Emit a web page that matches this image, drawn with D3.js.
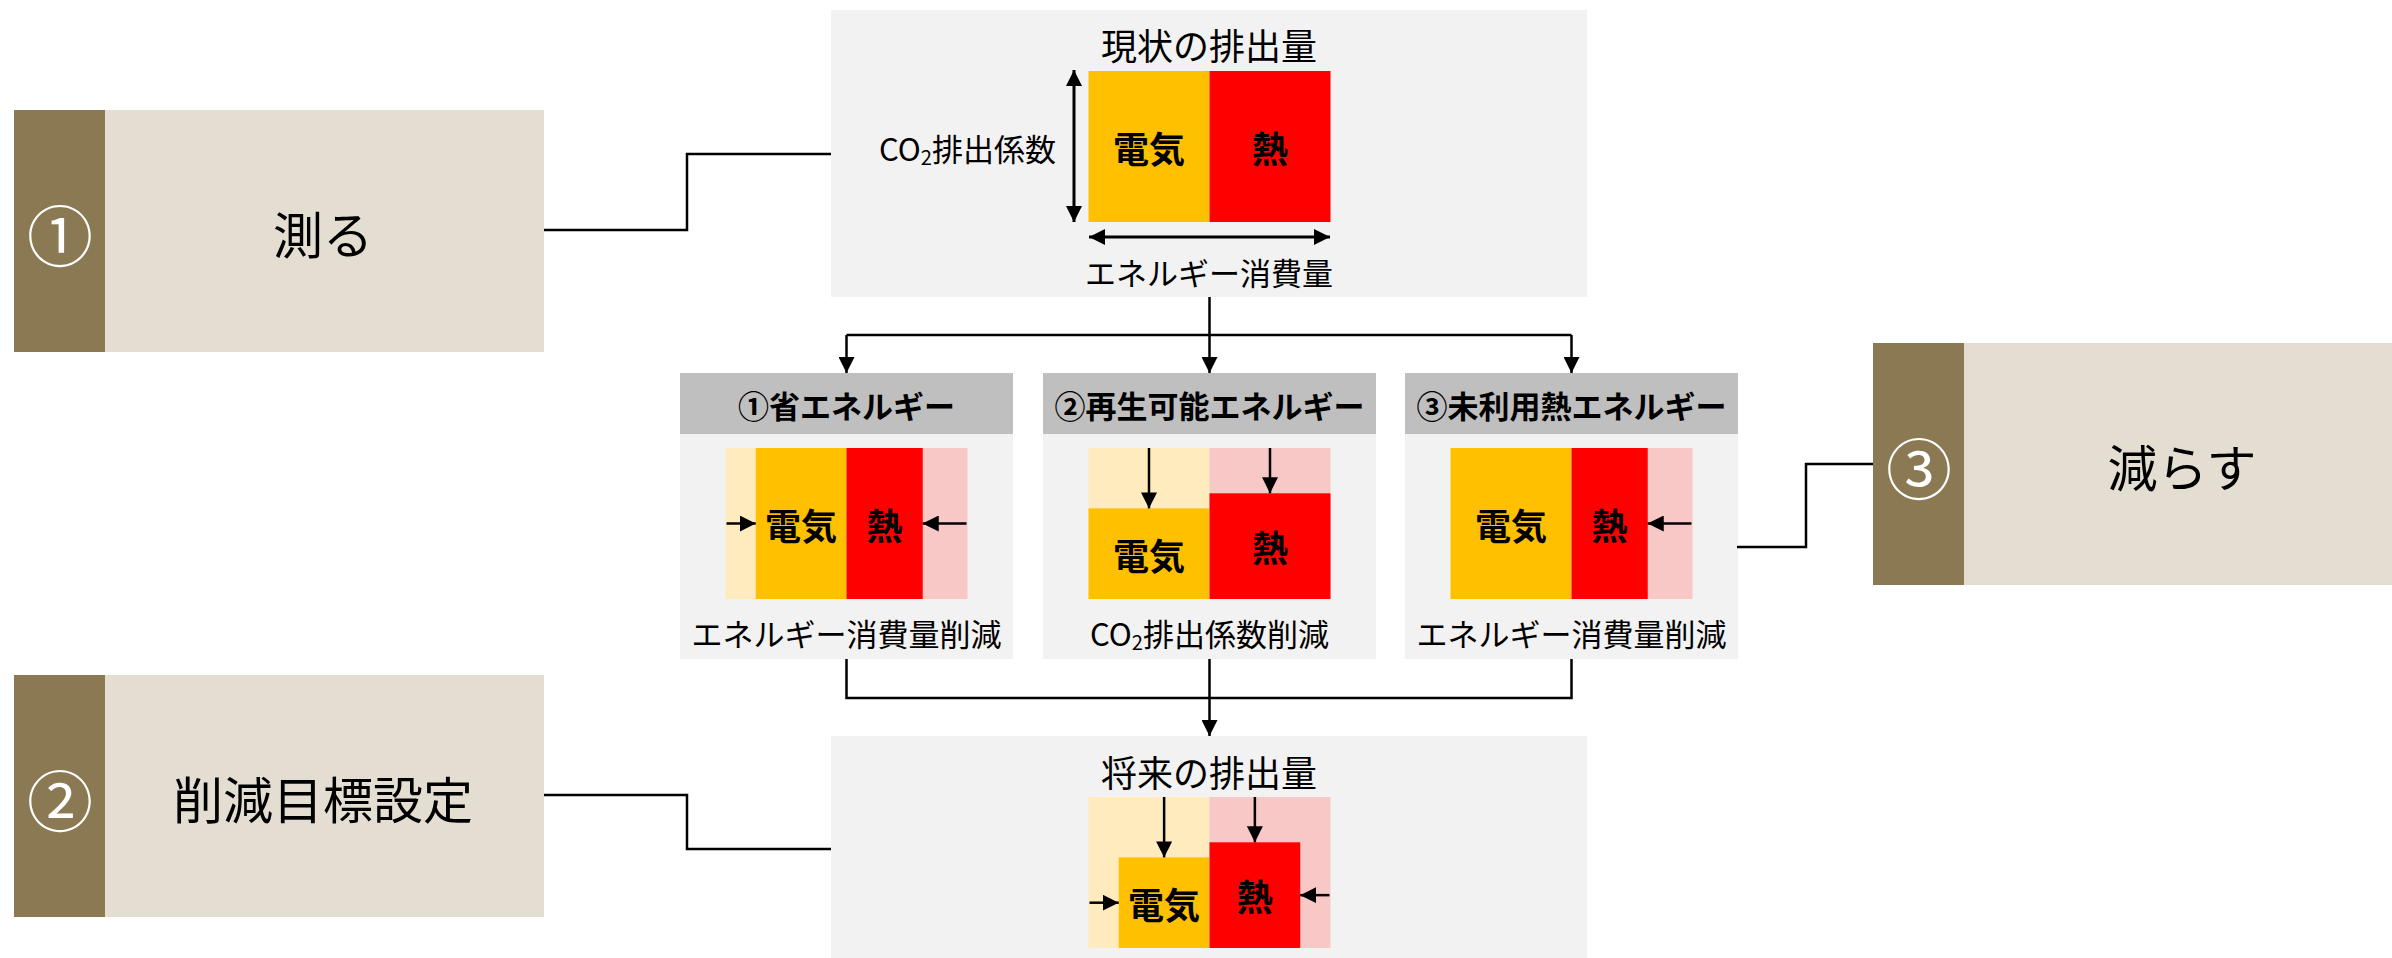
<!DOCTYPE html>
<html>
<head>
<meta charset="utf-8">
<script src="https://cdn.jsdelivr.net/npm/d3@7"></script>
<style>
  html, body { margin: 0; padding: 0; background: #fff; }
  svg { display: block; font-family: "Noto Sans CJK JP", "Noto Sans", sans-serif; }
</style>
</head>
<body>
<svg id="chart" width="2392" height="958"></svg>
<script>
// step labels on the left / right
const stepNums = ["①", "②", "③"];
const stepLabels = ["測る", "削減目標設定", "減らす"];

// energy sources
const sources = ["電気", "熱"];

// relative energy use (width) and CO2 factor (height), current = 1
const baseEnergy = [1, 1];
const baseFactor = [1, 1];

const measureTitles = ["①省エネルギー", "②再生可能エネルギー", "③未利用熱エネルギー"];
const measureNotes = ["エネルギー消費量削減", "CO2排出係数削減", "エネルギー消費量削減"];
const measureEnergy = [[0.75, 0.63], [1, 1], [1, 0.63]];
const measureFactor = [[1, 1], [0.6, 0.7], [1, 1]];

const futureEnergy = [0.75, 0.75];
const futureFactor = [0.6, 0.7];

const blockTitles = ["現状の排出量", "将来の排出量"];
const axisLabels = ["CO2排出係数", "エネルギー消費量"];

const colors = { elec: "#FFC000", heat: "#FF0000", elecGhost: "#FFEBBE", heatGhost: "#F8C8C6" };

const svg = d3.select("#chart");

const defs = svg.append("defs");
function addMarker(id, size, orient) {
  defs.append("marker")
    .attr("id", id)
    .attr("viewBox", "0 0 10 10")
    .attr("refX", 10).attr("refY", 5)
    .attr("markerUnits", "userSpaceOnUse")
    .attr("markerWidth", size).attr("markerHeight", size)
    .attr("orient", orient)
    .append("path").attr("d", "M0,0L10,5L0,10Z").attr("fill", "#000");
}
addMarker("arr", 16, "auto");
addMarker("arrBoth", 16, "auto-start-reverse");
addMarker("arrSm", 16, "auto");

// scales: one unit of energy -> width, one unit of factor -> height
const xUnit = d3.scaleLinear().domain([0, 1]).range([0, 121]);
const yUnit = d3.scaleLinear().domain([0, 1]).range([0, 151]);

// text helper with CO2 subscript
function addText(g, x, y, str, size, opts = {}) {
  const t = g.append("text")
    .attr("x", x).attr("y", y)
    .attr("text-anchor", opts.anchor || "middle")
    .attr("dominant-baseline", "central")
    .attr("font-size", size)
    .attr("font-weight", opts.bold ? 700 : 400)
    .attr("fill", opts.fill || "#000");
  const i = str.indexOf("CO2");
  if (i < 0) { t.text(str); return t; }
  t.append("tspan").text(str.slice(0, i) + "CO");
  t.append("tspan").attr("dy", size * 0.3).attr("font-size", size * 0.65).text("2");
  t.append("tspan").attr("dy", -size * 0.3).text(str.slice(i + 3));
  return t;
}

// one emission block: electricity grows to the left, heat to the right
function drawBlock(g, cx, yBottom, energy, factor) {
  const yTop = yBottom - yUnit(1);
  sources.forEach((s, i) => {
    const dir = i === 0 ? -1 : 1;
    const fullW = xUnit(baseEnergy[i]);
    const w = xUnit(energy[i]);
    const h = yUnit(factor[i]);
    const reduced = energy[i] < baseEnergy[i] || factor[i] < baseFactor[i];
    if (reduced) {
      g.append("rect")
        .attr("x", dir < 0 ? cx - fullW : cx).attr("y", yTop)
        .attr("width", fullW).attr("height", yUnit(baseFactor[i]))
        .attr("fill", i === 0 ? colors.elecGhost : colors.heatGhost);
    }
    const rx = dir < 0 ? cx - w : cx;
    g.append("rect")
      .attr("x", rx).attr("y", yBottom - h)
      .attr("width", w).attr("height", h)
      .attr("fill", i === 0 ? colors.elec : colors.heat);
    const midX = rx + w / 2;
    const midY = yBottom - h / 2;
    addText(g, midX, midY, s, 36, { bold: true });
    if (energy[i] < baseEnergy[i]) {
      const from = cx + dir * fullW;
      const to = cx + dir * w;
      g.append("line")
        .attr("x1", from - dir * 1).attr("y1", midY).attr("x2", to).attr("y2", midY)
        .attr("stroke", "#000").attr("stroke-width", 2.5)
        .attr("marker-end", "url(#arrSm)");
    }
    if (factor[i] < baseFactor[i]) {
      g.append("line")
        .attr("x1", midX).attr("y1", yTop).attr("x2", midX).attr("y2", yBottom - h)
        .attr("stroke", "#000").attr("stroke-width", 2.5)
        .attr("marker-end", "url(#arrSm)");
    }
  });
}

// left / right step boxes
const stepBoxes = [
  { x: 14, y: 110 },
  { x: 14, y: 675 },
  { x: 1873, y: 343 }
];
stepBoxes.forEach((b, i) => {
  const g = svg.append("g");
  g.append("rect").attr("x", b.x).attr("y", b.y).attr("width", 530).attr("height", 242).attr("fill", "#E4DDD1");
  g.append("rect").attr("x", b.x).attr("y", b.y).attr("width", 91).attr("height", 242).attr("fill", "#8B7953");
  addText(g, b.x + 46, b.y + 122, stepNums[i], 66, { fill: "#fff" });
  addText(g, b.x + 309, b.y + 122, stepLabels[i], 50);
});

// top block: current emissions
const topG = svg.append("g");
topG.append("rect").attr("x", 831).attr("y", 10).attr("width", 756).attr("height", 287).attr("fill", "#F2F2F2");
addText(topG, 1209, 44, blockTitles[0], 36);
drawBlock(topG, 1209.5, 222, baseEnergy, baseFactor);
topG.append("line")
  .attr("x1", 1074).attr("y1", 70).attr("x2", 1074).attr("y2", 222)
  .attr("stroke", "#000").attr("stroke-width", 3)
  .attr("marker-start", "url(#arrBoth)").attr("marker-end", "url(#arrBoth)");
topG.append("line")
  .attr("x1", 1089).attr("y1", 237).attr("x2", 1330).attr("y2", 237)
  .attr("stroke", "#000").attr("stroke-width", 3)
  .attr("marker-start", "url(#arrBoth)").attr("marker-end", "url(#arrBoth)");
addText(topG, 1056, 147, axisLabels[0], 31, { anchor: "end" });
addText(topG, 1209, 271, axisLabels[1], 31);

// measure panels
const panelX = [680, 1043, 1405];
measureTitles.forEach((t, i) => {
  const g = svg.append("g");
  const x = panelX[i];
  g.append("rect").attr("x", x).attr("y", 373).attr("width", 333).attr("height", 61).attr("fill", "#BFBFBF");
  g.append("rect").attr("x", x).attr("y", 434).attr("width", 333).attr("height", 225).attr("fill", "#F2F2F2");
  addText(g, x + 166.5, 404, t, 31, { bold: true });
  drawBlock(g, x + 166.5, 599, measureEnergy[i], measureFactor[i]);
  addText(g, x + 166.5, 632, measureNotes[i], 31);
});

// bottom block: future emissions
const botG = svg.append("g");
botG.append("rect").attr("x", 831).attr("y", 736).attr("width", 756).attr("height", 222).attr("fill", "#F2F2F2");
addText(botG, 1209, 771, blockTitles[1], 36);
drawBlock(botG, 1209.5, 948, futureEnergy, futureFactor);

// connectors
const lineGen = d3.line();
const links = [
  { pts: [[1209.5, 297], [1209.5, 335]] },
  { pts: [[846.5, 335], [1571.5, 335]] },
  { pts: [[846.5, 335], [846.5, 373]], arrow: true },
  { pts: [[1209.5, 335], [1209.5, 373]], arrow: true },
  { pts: [[1571.5, 335], [1571.5, 373]], arrow: true },
  { pts: [[846.5, 659], [846.5, 698], [1571.5, 698], [1571.5, 659]] },
  { pts: [[1209.5, 659], [1209.5, 736]], arrow: true },
  { pts: [[544, 230], [687, 230], [687, 154], [831, 154]] },
  { pts: [[544, 795], [687, 795], [687, 849], [831, 849]] },
  { pts: [[1737, 547], [1806, 547], [1806, 464], [1873, 464]] }
];
links.forEach(l => {
  svg.append("path")
    .attr("d", lineGen(l.pts))
    .attr("fill", "none").attr("stroke", "#000").attr("stroke-width", 2.5)
    .attr("marker-end", l.arrow ? "url(#arr)" : null);
});
</script>
</body>
</html>
